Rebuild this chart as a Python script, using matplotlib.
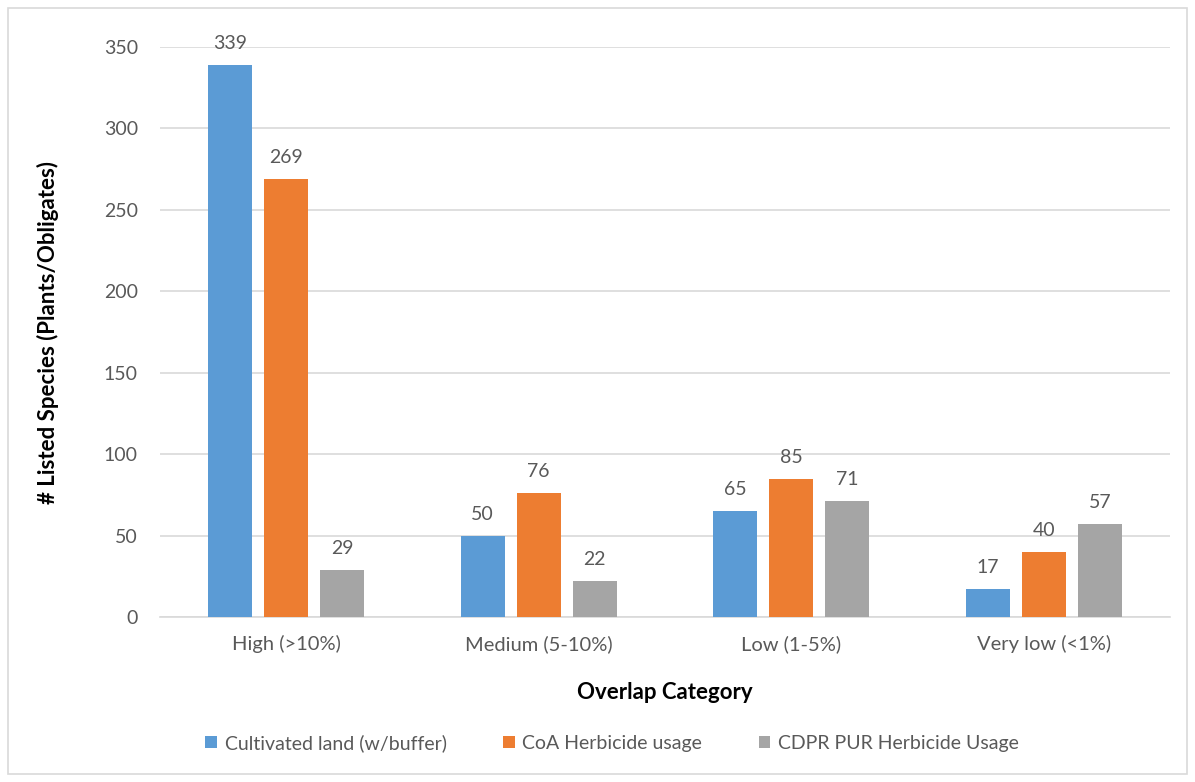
import numpy as np
import matplotlib.pyplot as plt
from matplotlib.patches import Rectangle

categories = ['High (>10%)', 'Medium (5-10%)', 'Low (1-5%)', 'Very low (<1%)']
series_names = ['Cultivated land (w/buffer)', 'CoA Herbicide usage', 'CDPR PUR Herbicide Usage']
cultivated = [339, 50, 65, 17]
coa = [269, 76, 85, 40]
cdpr = [29, 22, 71, 57]
colors = ['#5B9BD5', '#ED7D31', '#A5A5A5']

plt.rcParams['font.family'] = ['Lato', 'DejaVu Sans']
txt = '#595959'

f = plt.figure(figsize=(11.95, 7.82), dpi=100)
ax = f.add_axes([160/1195, 1 - 617/782, 1010/1195, 570/782])

x = np.arange(len(categories))
step = 0.222
width = 0.175
for i, (vals, name) in enumerate(zip([cultivated, coa, cdpr], series_names)):
    bars = ax.bar(x + (i - 1) * step, vals, width, color=colors[i], label=name, zorder=3)
    for b, v in zip(bars, vals):
        ax.text(b.get_x() + b.get_width() / 2, v + 8, str(v), ha='center', va='bottom',
                fontsize=14, color=txt, zorder=4)

ax.set_xlim(-0.5, 3.5)
ax.set_ylim(0, 350)
ax.set_yticks(range(0, 351, 50))
ax.set_xticks(x)
ax.set_xticklabels(categories)
ax.grid(axis='y', color='#D9D9D9', linewidth=1.2, zorder=0)
for s in ['top', 'right', 'left']:
    ax.spines[s].set_visible(False)
ax.spines['bottom'].set_color('#D9D9D9')
ax.spines['bottom'].set_linewidth(1.2)
ax.tick_params(axis='both', length=0, labelsize=14, labelcolor=txt)
ax.tick_params(axis='x', pad=13, labelsize=14.5)
ax.tick_params(axis='y', pad=16)

ax.set_xlabel('Overlap Category', fontsize=16, fontweight='bold', color='black', labelpad=21)
ax.set_ylabel('# Listed Species (Plants/Obligates)', fontsize=16, fontweight='bold',
              color='black', labelpad=32)

f.legend(loc='center', bbox_to_anchor=(612/1195, 1 - 743/782), ncol=3, frameon=False,
         fontsize=14, labelcolor=txt, handlelength=0.6, handleheight=0.6,
         columnspacing=2.9, handletextpad=0.4)

f.patches.append(Rectangle((8/1195, 8/782), 1 - 16/1195, 1 - 16/782, transform=f.transFigure,
                           fill=False, edgecolor='#D9D9D9', linewidth=1.2))

f.savefig('out.png', dpi=100)
